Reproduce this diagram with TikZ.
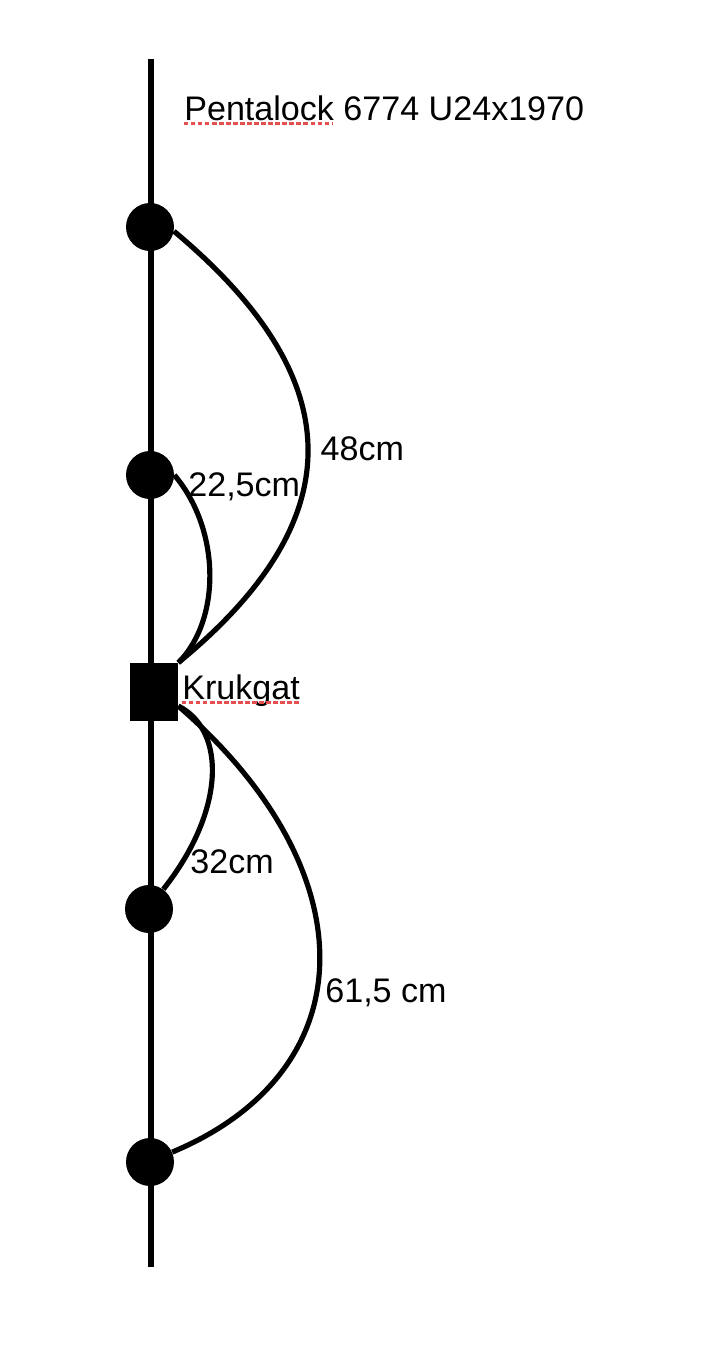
\documentclass[tikz,border=0pt]{standalone}
\usepackage{fontspec}
\setmainfont{Liberation Sans}
\definecolor{spellred}{RGB}{228,80,80}

\begin{document}
\begin{tikzpicture}[x=0.02cm,y=-0.02cm,
        hole/.style={circle, fill=black, inner sep=0pt, minimum size=0.96cm},
        krukbox/.style={rectangle, fill=black, inner sep=0pt, minimum width=0.96cm, minimum height=1.16cm},
        label/.style={anchor=base west, inner sep=0pt, font=\fontsize{19.4}{23}\selectfont},
        bow/.style={line width=2.95pt},
        spell/.style={spellred, line width=1.2pt, dash pattern=on 2.5pt off 1.5pt}]
        \useasboundingbox (0,0) rectangle (717,1370);
        \draw[line width=3.4pt] (151,59) -- (151,1267);
        \node[hole] (h1) at (150,227) {};
        \node[hole] (h2) at (150,475) {};
        \node[krukbox] (kg) at (154,692) {};
        \node[hole] (h3) at (149,909) {};
        \node[hole] (h4) at (150,1162) {};
        \node[label] (title) at (184,120) {Pentalock 6774 U24x1970};
        \node[label] (krukgat) at (182,699) {Krukgat};
        \draw[spell] (184,123.5) -- (332,123.5);
        \draw[spell] (182,702.5) -- (301,702.5);
        \draw[bow] (h1.-10) .. controls (352,380) and (352,520) .. (kg.north east) node[pos=0.5, label, anchor=west, xshift=0.2cm] (l48) {48cm};
        \draw[bow] (h2.0) .. controls (221,530) and (221,620) .. (kg.north east);
        \node[label] (l22) at (188,496) {22,5cm};
        \draw[bow] (kg.-30) .. controls (226,730) and (226,810) .. (h3.54);
        \node[label] (l32) at (190,873) {32cm};
        \draw[bow] (kg.-30) .. controls (368,870) and (368,1070) .. (h4.24);
        \node[label] (l61) at (325,1002) {61,5 cm};
    \end{tikzpicture}
\end{document}
